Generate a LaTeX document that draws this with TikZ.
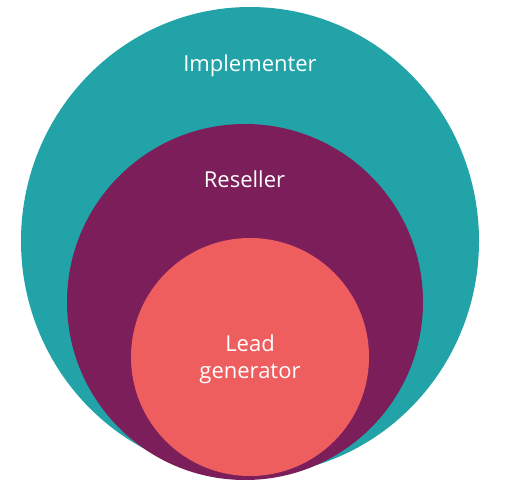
\documentclass[tikz,border=0pt]{standalone}
\usepackage{fontspec}
\setmainfont{Open Sans}
\usepackage{xcolor}
\usepackage{tikz}
\usetikzlibrary{positioning}
\definecolor{implteal}{RGB}{34, 163, 168}
\definecolor{resellerplum}{RGB}{123, 30, 90}
\definecolor{leadcoral}{RGB}{239, 94, 94}

\begin{document}
\begin{tikzpicture}[x=1pt, y=-1pt,
    ringlabel/.style={text=white, font=\fontsize{22}{27}\selectfont,
                      inner sep=0pt, align=center}]
    \useasboundingbox (0,0) rectangle (508,494);
    \coordinate (O1) at (250,241);
    \coordinate (O2) at (245,302);
    \coordinate (O3) at (250,357);
    \fill[implteal] (O1) ellipse [x radius=229, y radius=234];
    \fill[resellerplum] (O2) circle (178);
    \fill[leadcoral] (O3) circle (119);
    \node[ringlabel, anchor=base] (impl) at (250,72) {Implementer};
    \node[ringlabel, anchor=base] (resell) at (244.5,188) {Reseller};
    \node[ringlabel, anchor=base] (lead) at (250,378) {Lead\\generator};
\end{tikzpicture}
\end{document}
